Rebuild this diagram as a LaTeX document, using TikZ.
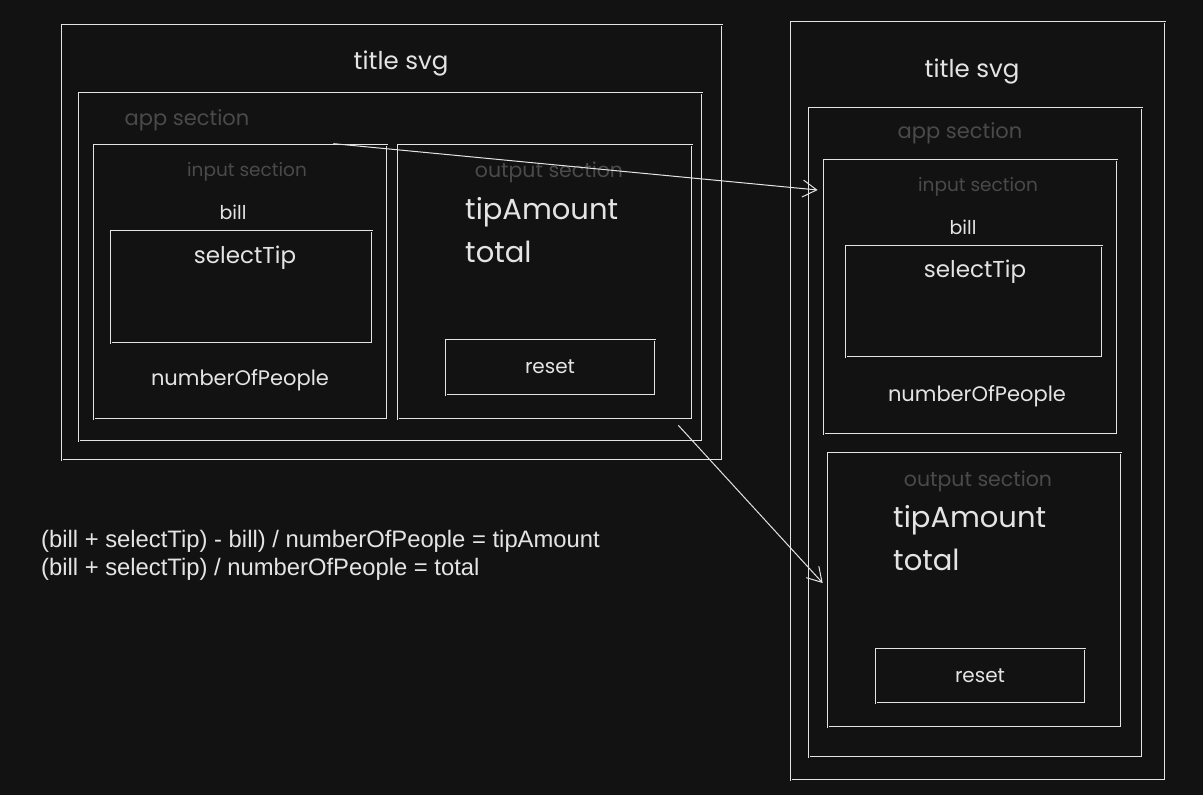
\documentclass[tikz,border=0pt]{standalone}
\usepackage{fontspec}
\setmainfont{Poppins}
\newfontfamily\formulafont{Liberation Sans}
\usetikzlibrary{arrows.meta}
\definecolor{bgcol}{HTML}{121212}
\definecolor{inkcol}{HTML}{E4E4E4}
\definecolor{dimcol}{HTML}{4A4A4A}
\begin{document}
\begin{tikzpicture}[x=1pt,y=-1pt,
    sketch/.style={draw=inkcol,double=bgcol,double distance=0.6pt,line width=0.7pt,
      inner sep=0pt,minimum width=#1},
    txt/.style={text=inkcol,inner sep=0pt,font=\fontsize{#1}{#1}\selectfont},
    dim/.style={text=dimcol,inner sep=0pt,font=\fontsize{#1}{#1}\selectfont},
    flow/.style={draw=inkcol,line width=1pt,-{Straight Barb[length=14pt,width=17pt,line width=1pt]}}]
      \fill [bgcol] (0,0) rectangle (1203,795);
      \useasboundingbox (0,0) rectangle (1203,795);

      % wide layout
      \node (titleL) [sketch=660pt,minimum height=435pt] at (392,242.5) {};
      \node (appL)   [sketch=623pt,minimum height=348pt] at (390.5,267) {};
      \node (inL)    [sketch=293pt,minimum height=274pt] at (240.5,282) {};
      \node (outL)   [sketch=294pt,minimum height=274pt] at (545,282) {};
      \node (tipL)   [sketch=261pt,minimum height=112pt] at (241.5,287) {};
      \node (resetL) [sketch=209pt,minimum height=55pt]  at (550.5,367.5) {};

      \node (ttlL)  [txt=24.5] at (401,63)  {title svg};
      \node (appLt) [dim=21]   at (187,120) {app section};
      \node (inLt)  [dim=18.5] at (247,172) {input section};
      \node (outLt) [dim=20.5] at (549,172) {output section};
      \node (billL) [txt=19]   at (233,212) {bill};
      \node (selL)  [txt=23]   at (245,258) {selectTip};
      \node (numL)  [txt=21]   at (240,380) {numberOfPeople};
      \node (amtL)  [txt=29,anchor=west] at (465,212) {tipAmount};
      \node (totL)  [txt=29,anchor=west] at (465,252) {total};
      \node (rstL)  [txt=20]   at (550,367) {reset};

      % narrow layout
      \node (titleR) [sketch=374pt,minimum height=758pt] at (978,401) {};
      \node (appR)   [sketch=333pt,minimum height=649pt] at (975.5,432.5) {};
      \node (inR)    [sketch=293pt,minimum height=274pt] at (970.5,297) {};
      \node (outR)   [sketch=293pt,minimum height=274pt] at (974.5,590) {};
      \node (tipR)   [sketch=256pt,minimum height=111pt] at (974,301.5) {};
      \node (resetR) [sketch=209pt,minimum height=54pt]  at (980.5,676) {};

      \node (ttlR)  [txt=24.5] at (972,71)  {title svg};
      \node (appRt) [dim=21]   at (960,133) {app section};
      \node (inRt)  [dim=18.5] at (978,187) {input section};
      \node (outRt) [dim=20.5] at (978,481) {output section};
      \node (billR) [txt=19]   at (963,227) {bill};
      \node (selR)  [txt=23]   at (975,272) {selectTip};
      \node (numR)  [txt=21]   at (977,396) {numberOfPeople};
      \node (amtR)  [txt=29,anchor=west] at (893,520) {tipAmount};
      \node (totR)  [txt=29,anchor=west] at (893,560) {total};
      \node (rstR)  [txt=20]   at (980,676) {reset};

      % formulas
      \node (calc) [text=inkcol,inner sep=0pt,anchor=north west,align=left,
        font=\formulafont\fontsize{23.8}{28}\selectfont] at (41,530)
        {(bill + selectTip) - bill) / numberOfPeople = tipAmount\\
         (bill + selectTip) / numberOfPeople = total};

      \draw [flow] ([xshift=-54pt,yshift=1pt]inL.north east) -- ([xshift=-6pt,yshift=107pt]inR.west);
      \draw [flow] ([xshift=-14pt,yshift=-6pt]outL.south east) -- ([xshift=-5pt,yshift=7pt]outR.west);
    \end{tikzpicture}
\end{document}
